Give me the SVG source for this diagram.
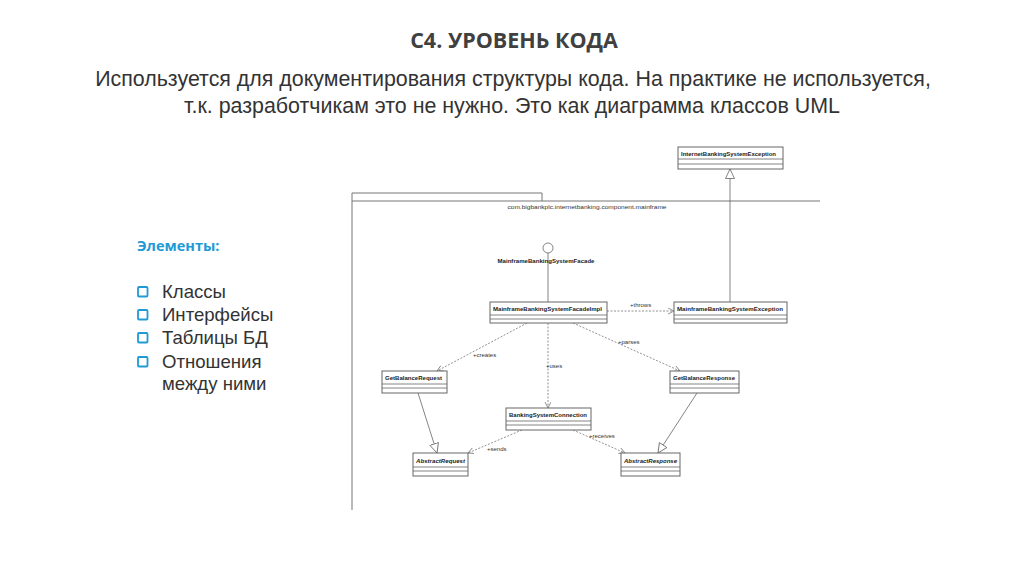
<svg xmlns="http://www.w3.org/2000/svg" width="1024" height="574" viewBox="0 0 1024 574">
<style>
.title{font-family:"Open Sans","Liberation Sans",sans-serif;font-weight:bold;font-size:21.5px;fill:#404040}
.sub{font-family:"Liberation Sans",Arial,sans-serif;font-size:21.4px;fill:#333}
.hdr{font-family:"Open Sans","Liberation Sans",sans-serif;font-weight:bold;font-size:14.5px;fill:#1e9ad6}
.item{font-family:"Liberation Sans",Arial,sans-serif;font-size:18.6px;fill:#333}
.chk{fill:#fff;stroke:#1e9ad6;stroke-width:1.8}
.box{fill:#fff;stroke:#666;stroke-width:1}
.div{stroke:#666;stroke-width:0.8}
.cls{font-family:"Liberation Sans",Arial,sans-serif;font-weight:bold;font-size:6px;fill:#222}
.abs{font-style:italic}
.lbl{font-family:"Liberation Sans",Arial,sans-serif;font-size:6px;fill:#333}
.pkg{fill:none;stroke:#777;stroke-width:1}
.dep{fill:none;stroke:#777;stroke-width:0.8;stroke-dasharray:2,1.5;marker-end:url(#open)}
.gen{fill:none;stroke:#666;stroke-width:0.8;marker-end:url(#tri)}
.sol{fill:none;stroke:#666;stroke-width:0.8}
</style>
<defs>
<marker id="open" markerUnits="userSpaceOnUse" markerWidth="8" markerHeight="8" refX="6" refY="3" orient="auto">
<path d="M0,0 L6,3 L0,6" fill="none" stroke="#777" stroke-width="0.8"/>
</marker>
<marker id="tri" markerUnits="userSpaceOnUse" markerWidth="12" markerHeight="12" refX="10" refY="5" orient="auto">
<path d="M0.5,0.5 L10,5 L0.5,9.5 z" fill="#fff" stroke="#666" stroke-width="0.8"/>
</marker>
</defs>
<rect width="1024" height="574" fill="#fff"/>

<text class="title" x="514" y="48" text-anchor="middle">C4. УРОВЕНЬ КОДА</text>
<text class="sub" x="513" y="86" text-anchor="middle">Используется для документирования структуры кода. На практике не используется,</text>
<text class="sub" x="512" y="113" text-anchor="middle">т.к. разработчикам это не нужно. Это как диаграмма классов UML</text>

<g id="elements">
<text class="hdr" x="137" y="251">Элементы:</text>
<rect class="chk" x="138" y="287" width="9.5" height="9.5" rx="1"/>
<text class="item" x="162" y="298">Классы</text>
<rect class="chk" x="138" y="310" width="9.5" height="9.5" rx="1"/>
<text class="item" x="162" y="321">Интерфейсы</text>
<rect class="chk" x="138" y="333" width="9.5" height="9.5" rx="1"/>
<text class="item" x="162" y="344">Таблицы БД</text>
<rect class="chk" x="138" y="357" width="9.5" height="9.5" rx="1"/>
<text class="item" x="162" y="368">Отношения</text>
<text class="item" x="162" y="390">между ними</text>
</g>

<g id="package">
<path class="pkg" d="M352,201 L352,193 L542,193 L542,201"/>
<path class="pkg" d="M352,510 L352,201 L820,201"/>
<text class="lbl" x="587" y="209" text-anchor="middle" textLength="159" lengthAdjust="spacingAndGlyphs">com.bigbankplc.internetbanking.component.mainframe</text>
</g>

<g id="connectors">
<line class="sol" x1="548" y1="253" x2="548" y2="302"/>
<line class="gen" x1="730" y1="302" x2="730" y2="169"/>
<line class="dep" x1="607" y1="311" x2="674" y2="311"/>
<text class="lbl" x="630" y="307">+throws</text>
<line class="dep" x1="527" y1="323" x2="437" y2="371"/>
<text class="lbl" x="473" y="357">+creates</text>
<line class="dep" x1="548" y1="323" x2="548" y2="408"/>
<text class="lbl" x="546" y="368">+uses</text>
<line class="dep" x1="573" y1="323" x2="680" y2="371"/>
<text class="lbl" x="618" y="344">+parses</text>
<line class="gen" x1="418" y1="393" x2="437" y2="453"/>
<line class="gen" x1="697" y1="393" x2="658" y2="453"/>
<line class="dep" x1="522" y1="430" x2="468" y2="453"/>
<text class="lbl" x="487" y="451">+sends</text>
<line class="dep" x1="573" y1="430" x2="625" y2="453"/>
<text class="lbl" x="589" y="438">+receives</text>
</g>

<g id="InternetBankingSystemException">
<rect class="box" x="678" y="147" width="105" height="22"/>
<line class="div" x1="678" y1="159" x2="783" y2="159"/>
<line class="div" x1="678" y1="164" x2="783" y2="164"/>
<text class="cls" x="681" y="156" textLength="95" lengthAdjust="spacingAndGlyphs">InternetBankingSystemException</text>
</g>

<g id="MainframeBankingSystemFacade">
<circle cx="548" cy="248" r="5" fill="#fff" stroke="#666" stroke-width="0.8"/>
<text class="cls" x="546" y="263" text-anchor="middle" textLength="97" lengthAdjust="spacingAndGlyphs">MainframeBankingSystemFacade</text>
</g>

<g id="MainframeBankingSystemFacadeImpl">
<rect class="box" x="490" y="302" width="117" height="21"/>
<line class="div" x1="490" y1="315" x2="607" y2="315"/>
<line class="div" x1="490" y1="319" x2="607" y2="319"/>
<text class="cls" x="493" y="311" textLength="109" lengthAdjust="spacingAndGlyphs">MainframeBankingSystemFacadeImpl</text>
</g>

<g id="MainframeBankingSystemException">
<rect class="box" x="674" y="302" width="113" height="21"/>
<line class="div" x1="674" y1="315" x2="787" y2="315"/>
<line class="div" x1="674" y1="319" x2="787" y2="319"/>
<text class="cls" x="677" y="311" textLength="106" lengthAdjust="spacingAndGlyphs">MainframeBankingSystemException</text>
</g>

<g id="GetBalanceRequest">
<rect class="box" x="382" y="371" width="65" height="22"/>
<line class="div" x1="382" y1="384" x2="447" y2="384"/>
<line class="div" x1="382" y1="388" x2="447" y2="388"/>
<text class="cls" x="385" y="380" textLength="57" lengthAdjust="spacingAndGlyphs">GetBalanceRequest</text>
</g>

<g id="GetBalanceResponse">
<rect class="box" x="670" y="371" width="69" height="22"/>
<line class="div" x1="670" y1="384" x2="739" y2="384"/>
<line class="div" x1="670" y1="388" x2="739" y2="388"/>
<text class="cls" x="673" y="380" textLength="62" lengthAdjust="spacingAndGlyphs">GetBalanceResponse</text>
</g>

<g id="BankingSystemConnection">
<rect class="box" x="506" y="408" width="85" height="22"/>
<line class="div" x1="506" y1="421" x2="591" y2="421"/>
<line class="div" x1="506" y1="425" x2="591" y2="425"/>
<text class="cls" x="509" y="417" textLength="78" lengthAdjust="spacingAndGlyphs">BankingSystemConnection</text>
</g>

<g id="AbstractRequest">
<rect class="box" x="413" y="453" width="55" height="23"/>
<line class="div" x1="413" y1="467" x2="468" y2="467"/>
<line class="div" x1="413" y1="471" x2="468" y2="471"/>
<text class="cls abs" x="416" y="463" textLength="49" lengthAdjust="spacingAndGlyphs">AbstractRequest</text>
</g>

<g id="AbstractResponse">
<rect class="box" x="621" y="453" width="59" height="23"/>
<line class="div" x1="621" y1="467" x2="680" y2="467"/>
<line class="div" x1="621" y1="471" x2="680" y2="471"/>
<text class="cls abs" x="624" y="463" textLength="53" lengthAdjust="spacingAndGlyphs">AbstractResponse</text>
</g>
</svg>
